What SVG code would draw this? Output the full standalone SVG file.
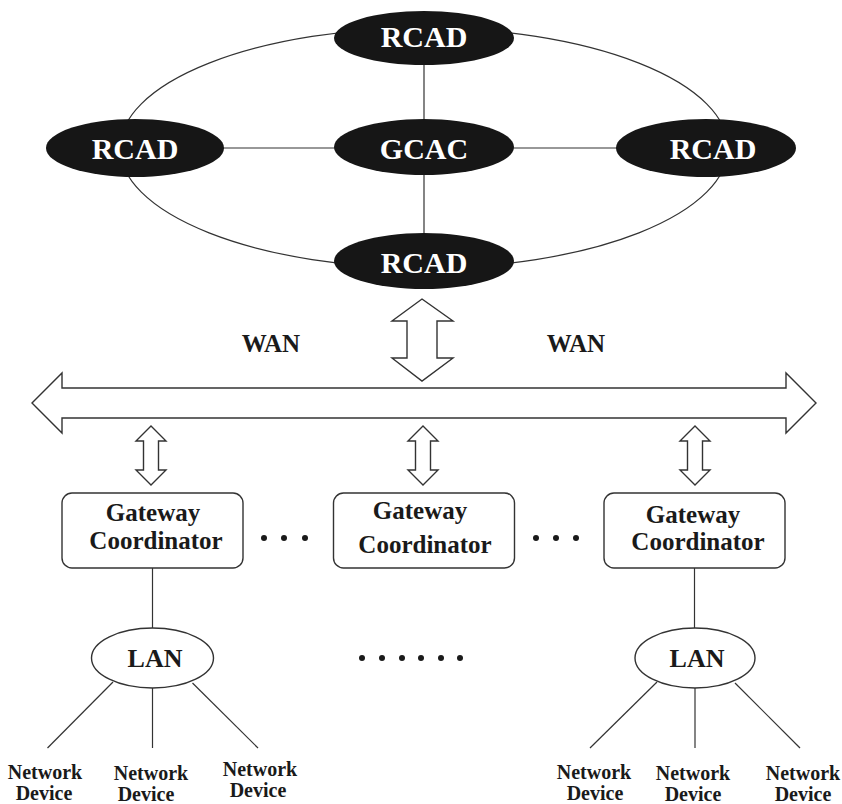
<svg xmlns="http://www.w3.org/2000/svg" width="842" height="804" viewBox="0 0 842 804">
<style>
.ln{stroke:#333;stroke-width:1.2;fill:none}
.arr{stroke:#333;stroke-width:1.4;fill:#fff;stroke-linejoin:miter}
.dark{fill:#161616;stroke:none}
.wt{fill:#fff;font-family:"Liberation Serif","Times New Roman",serif;font-weight:bold;font-size:30px;text-anchor:middle}
.bt{fill:#1a1a1a;font-family:"Liberation Serif","Times New Roman",serif;font-weight:bold;text-anchor:middle}
.box{fill:#fff;stroke:#333;stroke-width:1.4}
.dot{fill:#1a1a1a}
</style>
<rect width="842" height="804" fill="#fff"/>
<g id="connectors">
<ellipse class="ln" cx="424" cy="148" rx="304" ry="120"/>
<line class="ln" x1="424" y1="50" x2="424" y2="148"/>
<line class="ln" x1="424" y1="148" x2="424" y2="250"/>
<line class="ln" x1="200" y1="148" x2="650" y2="148"/>
<line class="ln" x1="152.5" y1="568" x2="152.5" y2="628"/>
<line class="ln" x1="694.5" y1="568" x2="694.5" y2="628"/>
<line class="ln" x1="113" y1="682" x2="47.5" y2="748"/>
<line class="ln" x1="152.5" y1="688" x2="152.5" y2="748"/>
<line class="ln" x1="192.5" y1="683" x2="258" y2="748"/>
<line class="ln" x1="657" y1="682" x2="590" y2="748"/>
<line class="ln" x1="695" y1="688" x2="695" y2="748"/>
<line class="ln" x1="735" y1="683" x2="800" y2="748"/>
<path id="wan-bus" class="arr" d="M32,403 L62,373 L62,388 L786,388 L786,373 L816,403 L786,433 L786,418 L62,418 L62,433 Z"/>
<path id="wan-up" class="arr" d="M422,299 L453,321 L437,321 L437,358 L453,358 L422,381 L392,358 L407,358 L407,321 L392,321 Z"/>
<path class="arr" d="M151,426 L166,441 L158.5,441 L158.5,470 L166,470 L151,485 L136,470 L143.5,470 L143.5,441 L136,441 Z"/>
<path class="arr" d="M423,426 L438,441 L430.5,441 L430.5,470 L438,470 L423,485 L408,470 L415.5,470 L415.5,441 L408,441 Z"/>
<path class="arr" d="M695,426 L710,441 L702.5,441 L702.5,470 L710,470 L695,485 L680,470 L687.5,470 L687.5,441 L680,441 Z"/>
</g>
<g id="rcad-top"><ellipse class="dark" cx="424" cy="38" rx="90" ry="27"/><text class="wt" x="424" y="47">RCAD</text></g>
<g id="gcac"><ellipse class="dark" cx="424" cy="147" rx="90" ry="28"/><text class="wt" x="424" y="159">GCAC</text></g>
<g id="rcad-left"><ellipse class="dark" cx="135" cy="148" rx="89" ry="29"/><text class="wt" x="135" y="159">RCAD</text></g>
<g id="rcad-right"><ellipse class="dark" cx="706" cy="148" rx="90" ry="29"/><text class="wt" x="713" y="159">RCAD</text></g>
<g id="rcad-bottom"><ellipse class="dark" cx="424" cy="261" rx="90" ry="28"/><text class="wt" x="424" y="273">RCAD</text></g>
<g id="wan-labels">
<text class="bt" x="271" y="352" font-size="25">WAN</text>
<text class="bt" x="576" y="352" font-size="25">WAN</text>
</g>
<g id="gw1"><rect class="box" x="62" y="493" width="181" height="75" rx="10"/><text class="bt" font-size="25"><tspan x="153" y="521">Gateway</tspan><tspan x="156" y="549">Coordinator</tspan></text></g>
<g id="gw2"><rect class="box" x="333.5" y="493" width="181" height="75" rx="10"/><text class="bt" font-size="25"><tspan x="420" y="519">Gateway</tspan><tspan x="425" y="553">Coordinator</tspan></text></g>
<g id="gw3"><rect class="box" x="604" y="493" width="181" height="75" rx="10"/><text class="bt" font-size="25"><tspan x="693" y="523">Gateway</tspan><tspan x="698" y="550">Coordinator</tspan></text></g>
<g id="dots">
<circle class="dot" cx="264" cy="538" r="3"/><circle class="dot" cx="284" cy="538" r="3"/><circle class="dot" cx="305" cy="538" r="3"/>
<circle class="dot" cx="536" cy="538" r="3"/><circle class="dot" cx="556" cy="538" r="3"/><circle class="dot" cx="576" cy="538" r="3"/>
<circle class="dot" cx="362" cy="658" r="3"/><circle class="dot" cx="382" cy="658" r="3"/><circle class="dot" cx="402" cy="658" r="3"/><circle class="dot" cx="421" cy="658" r="3"/><circle class="dot" cx="441" cy="658" r="3"/><circle class="dot" cx="460" cy="658" r="3"/>
</g>
<g id="lan1"><ellipse class="box" cx="152.5" cy="658" rx="61" ry="30"/><text class="bt" x="155" y="667" font-size="26">LAN</text></g>
<g id="lan2"><ellipse class="box" cx="695" cy="658" rx="60" ry="30"/><text class="bt" x="697" y="667" font-size="26">LAN</text></g>
<g id="dev1"><text class="bt" font-size="20"><tspan x="45" y="779">Network</tspan><tspan x="44" y="800">Device</tspan></text></g>
<g id="dev2"><text class="bt" font-size="20"><tspan x="151" y="780">Network</tspan><tspan x="146" y="801">Device</tspan></text></g>
<g id="dev3"><text class="bt" font-size="20"><tspan x="260" y="776">Network</tspan><tspan x="258" y="797">Device</tspan></text></g>
<g id="dev4"><text class="bt" font-size="20"><tspan x="594" y="779">Network</tspan><tspan x="595" y="800">Device</tspan></text></g>
<g id="dev5"><text class="bt" font-size="20"><tspan x="693" y="780">Network</tspan><tspan x="693" y="801">Device</tspan></text></g>
<g id="dev6"><text class="bt" font-size="20"><tspan x="803" y="780">Network</tspan><tspan x="803" y="801">Device</tspan></text></g>
</svg>
